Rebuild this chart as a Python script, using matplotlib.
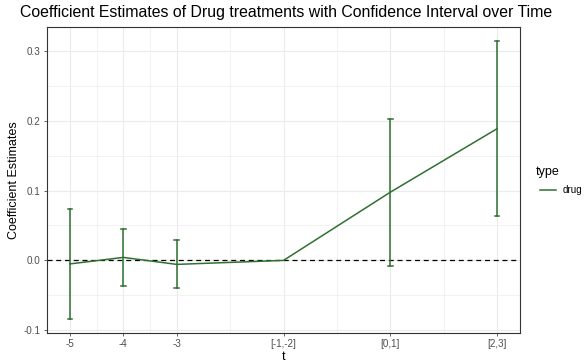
import matplotlib
matplotlib.use("Agg")
import matplotlib.pyplot as plt
from matplotlib.lines import Line2D

plt.rcParams['font.family'] = ['Liberation Sans', 'DejaVu Sans']

t_pos = [-5, -4, -3, -1, 1, 3]
t_labels = ["-5", "-4", "-3", "[-1,-2]", "[0,1]", "[2,3]"]
estimate = [-0.005, 0.0043, -0.0057, 0.0, 0.0976, 0.1885]
ci_low = [-0.084, -0.036, -0.0396, 0.0, -0.008, 0.0631]
ci_high = [0.074, 0.045, 0.0287, 0.0, 0.2019, 0.3142]
y_ticks = [-0.1, 0.0, 0.1, 0.2, 0.3]
y_labels = ["-0.1", "0.0", "0.1", "0.2", "0.3"]

green = "#2f702f"

fig = plt.figure(figsize=(5.86, 3.62), dpi=100)
ax = fig.add_axes([47/586, 1-333/362, (520-47)/586, (333-27)/362])

# grid
ax.set_axisbelow(True)
for x in t_pos:
    ax.axvline(x, color="#ebebeb", lw=0.8, zorder=0)
for x in [-4.5, -3.5, -2, 0, 2]:
    ax.axvline(x, color="#ebebeb", lw=0.45, zorder=0)
for y in y_ticks:
    ax.axhline(y, color="#ebebeb", lw=0.8, zorder=0)
for y in [-0.05, 0.05, 0.15, 0.25]:
    ax.axhline(y, color="#ebebeb", lw=0.45, zorder=0)

ax.axhline(0, color="black", lw=0.9, ls=(0, (4, 3)), zorder=1)

ax.plot(t_pos, estimate, color=green, lw=1.1, zorder=3)
for x, lo, hi in zip(t_pos, ci_low, ci_high):
    if hi == lo:
        continue
    ax.plot([x, x], [lo, hi], color=green, lw=1.1, zorder=3)
    ax.plot([x - 0.045, x + 0.045], [lo, lo], color=green, lw=1.1, zorder=3)
    ax.plot([x - 0.045, x + 0.045], [hi, hi], color=green, lw=1.1, zorder=3)

lo_all, hi_all = min(ci_low), max(ci_high)
pad = (hi_all - lo_all) * 0.05
ax.set_ylim(lo_all - pad, hi_all + pad)
ax.set_xlim(-5.43, 3.43)

ax.set_xticks(t_pos)
ax.set_xticklabels(t_labels)
ax.set_yticks(y_ticks)
ax.set_yticklabels(y_labels)
ax.tick_params(axis="both", labelsize=7.1, colors="#4d4d4d", length=2.5, width=0.6, pad=2)
for s in ax.spines.values():
    s.set_color("#333333")
    s.set_linewidth(0.8)

ax.set_xlabel("t", fontsize=9, labelpad=1)
ax.set_ylabel("Coefficient Estimates", fontsize=9, labelpad=3)
fig.text(286/586, 1-13/362,
         "Coefficient Estimates of Drug treatments with Confidence Interval over Time",
         fontsize=11.4, ha="center", va="center")

fig.text(536/586, 1-172/362, "type", fontsize=9, va="center", ha="left")
fig.add_artist(Line2D([540/586, 556/586], [1-190/362, 1-190/362], color=green, lw=1.1))
fig.text(563/586, 1-190/362, "drug", fontsize=7.1, va="center", ha="left")

fig.savefig("out.png", dpi=100)
